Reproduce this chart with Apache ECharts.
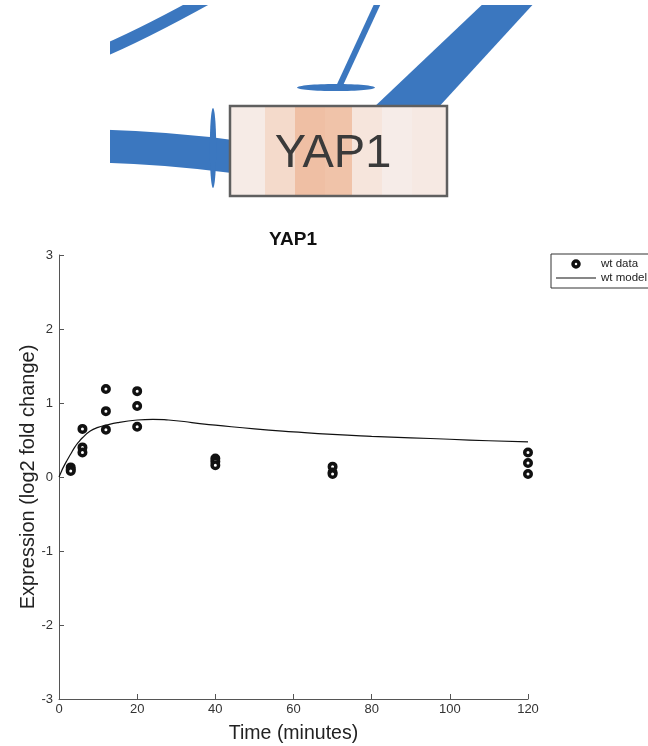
<!DOCTYPE html>
<html>
<head>
<meta charset="utf-8">
<title>YAP1</title>
<script src="https://cdn.jsdelivr.net/npm/echarts@6/dist/echarts.min.js"></script>
<style>
  html, body { margin: 0; padding: 0; background: #fff; }
  #chart { width: 648px; height: 746px; }
</style>
</head>
<body>
<div id="chart"></div>
<script>
// Sampled time points (minutes)
const times = [3, 6, 12, 20, 40, 70, 120];

// Three wild-type replicates, log2 fold change
const wtRep1 = [0.13, 0.65, 1.19, 1.16, 0.25, 0.14, 0.33];
const wtRep2 = [0.10, 0.40, 0.89, 0.96, 0.21, 0.06, 0.19];
const wtRep3 = [0.08, 0.33, 0.64, 0.68, 0.16, 0.04, 0.04];

// Fitted model trajectory
const modelTime  = [0, 0.5, 1, 2, 3, 4, 5, 6, 8, 10, 12, 15, 20, 24, 28, 32, 36, 40, 50, 60, 70, 80, 90, 100, 110, 120];
const modelValue = [0, 0.06, 0.12, 0.22, 0.31, 0.40, 0.47, 0.53, 0.62, 0.67, 0.70, 0.735, 0.77, 0.78, 0.77, 0.75, 0.72, 0.70, 0.65, 0.61, 0.575, 0.55, 0.53, 0.51, 0.49, 0.475];

// Axis ticks
const xTicks = [0, 20, 40, 60, 80, 100, 120];
const yTicks = [-3, -2, -1, 0, 1, 2, 3];

const geneName = 'YAP1';

const scatterPoints = [];
[wtRep1, wtRep2, wtRep3].forEach(function (rep) {
  rep.forEach(function (v, i) { scatterPoints.push([times[i], v]); });
});
const modelPoints = modelTime.map(function (t, i) { return [t, modelValue[i]]; });

// Network snippet above the plot: edges into the gene node and its heat strip
const edgeBlue = '#3b77bf';
const stripeEdges  = [230, 265, 295, 325, 352, 382, 412, 447];
const stripeColors = ['#f6ebe6', '#f4dacb', '#efbfa4', '#f0c3a9', '#f6e5dc', '#f6ece8', '#f6e9e3'];

const networkGraphics = [
  // top-left arc
  { type: 'bezierCurve', z: 1, shape: { x1: 96, y1: 54, cpx1: 140, cpy1: 36, x2: 212, y2: -4 },
    style: { stroke: edgeBlue, lineWidth: 12, fill: null } },
  // thick edge entering from the left
  { type: 'bezierCurve', z: 1, shape: { x1: 100, y1: 146, cpx1: 170, cpy1: 148, x2: 236, y2: 157 },
    style: { stroke: edgeBlue, lineWidth: 33, fill: null } },
  // cap on the left edge
  { type: 'ellipse', z: 2, shape: { cx: 213, cy: 148, rx: 3.2, ry: 40 }, style: { fill: edgeBlue } },
  // inhibition edge from above
  { type: 'line', z: 1, shape: { x1: 382, y1: -6, x2: 339, y2: 87 },
    style: { stroke: edgeBlue, lineWidth: 6 } },
  { type: 'ellipse', z: 2, shape: { cx: 336, cy: 87.5, rx: 39, ry: 3.6 }, style: { fill: edgeBlue } },
  // wide edge entering from the top right
  { type: 'polygon', z: 1, shape: { points: [[371, 110], [436, 110], [537, 0], [487, 0]] },
    style: { fill: edgeBlue } }
];

stripeColors.forEach(function (c, i) {
  networkGraphics.push({
    type: 'rect', z: 5,
    shape: { x: stripeEdges[i], y: 106, width: stripeEdges[i + 1] - stripeEdges[i], height: 90 },
    style: { fill: c }
  });
});

networkGraphics.push(
  { type: 'rect', z: 6, shape: { x: 230, y: 106, width: 217, height: 90 },
    style: { fill: null, stroke: '#5f5f5f', lineWidth: 2.5 } },
  { type: 'text', z: 7, x: 333, y: 154,
    style: { text: geneName, fill: '#3a3a3a', font: '47px "Liberation Sans", Arial, sans-serif',
             textAlign: 'center', textVerticalAlign: 'middle' } },
  // white margins framing the snippet
  { type: 'rect', z: 10, shape: { x: 0, y: 0, width: 110, height: 215 }, style: { fill: '#fff' } },
  { type: 'rect', z: 10, shape: { x: 0, y: 0, width: 648, height: 5 }, style: { fill: '#fff' } }
);

const chart = echarts.init(document.getElementById('chart'), null, { renderer: 'canvas' });

const axisGrey = '#555';
const labelFont = '"Liberation Sans", Arial, sans-serif';
const ink = '#111';

chart.setOption({
  backgroundColor: '#fff',
  animation: false,
  textStyle: { fontFamily: labelFont },
  title: {
    text: geneName,
    left: 293,
    top: 230,
    padding: 0,
    textAlign: 'center',
    textStyle: { fontSize: 19, fontWeight: 'bold', color: ink, fontFamily: labelFont }
  },
  graphic: networkGraphics,
  legend: {
    orient: 'vertical',
    left: 551,
    top: 254,
    padding: [3, 20, 3, 5],
    itemGap: 0,
    itemWidth: 40,
    itemHeight: 6,
    borderColor: '#333',
    borderWidth: 1,
    borderRadius: 0,
    backgroundColor: '#fff',
    textStyle: { fontSize: 11.5, color: '#222', fontFamily: labelFont, lineHeight: 14 },
    data: [
      { name: 'wt data', icon: 'circle',
        itemStyle: { color: '#fff', borderColor: ink, borderWidth: 3.5 } },
      { name: 'wt model', icon: 'path://M0,0 H40 V1 H0 Z',
        itemStyle: { color: ink, borderWidth: 0 } }
    ]
  },
  grid: { left: 59, right: 120, top: 255, bottom: 47, containLabel: false, outerBoundsMode: 'none' },
  xAxis: {
    type: 'value',
    min: xTicks[0],
    max: xTicks[xTicks.length - 1],
    interval: 20,
    name: 'Time (minutes)',
    nameLocation: 'middle',
    nameGap: 25,
    nameMoveOverlap: false,
    nameTextStyle: { fontSize: 19.5, color: '#222', fontFamily: labelFont },
    axisLine: { show: true, onZero: false, lineStyle: { color: axisGrey, width: 1 } },
    axisTick: { show: true, inside: true, length: 5, lineStyle: { color: axisGrey } },
    axisLabel: { fontSize: 13, color: '#333', margin: 4 },
    splitLine: { show: false }
  },
  yAxis: {
    type: 'value',
    min: yTicks[0],
    max: yTicks[yTicks.length - 1],
    interval: 1,
    name: 'Expression (log2 fold change)',
    nameLocation: 'middle',
    nameGap: 21,
    nameMoveOverlap: false,
    nameTextStyle: { fontSize: 20, color: '#222', fontFamily: labelFont },
    axisLine: { show: true, onZero: false, lineStyle: { color: axisGrey, width: 1 } },
    axisTick: { show: true, inside: true, length: 5, lineStyle: { color: axisGrey } },
    axisLabel: { fontSize: 13, color: '#333', margin: 6 },
    splitLine: { show: false }
  },
  series: [
    {
      name: 'wt data',
      type: 'scatter',
      data: scatterPoints,
      symbol: 'circle',
      symbolSize: 6.5,
      itemStyle: { color: '#fff', borderColor: ink, borderWidth: 3.5, opacity: 1 },
      z: 3
    },
    {
      name: 'wt model',
      type: 'line',
      data: modelPoints,
      smooth: true,
      symbol: 'none',
      showSymbol: false,
      lineStyle: { color: ink, width: 1.2 },
      itemStyle: { color: ink },
      z: 2
    }
  ]
});
</script>
</body>
</html>
